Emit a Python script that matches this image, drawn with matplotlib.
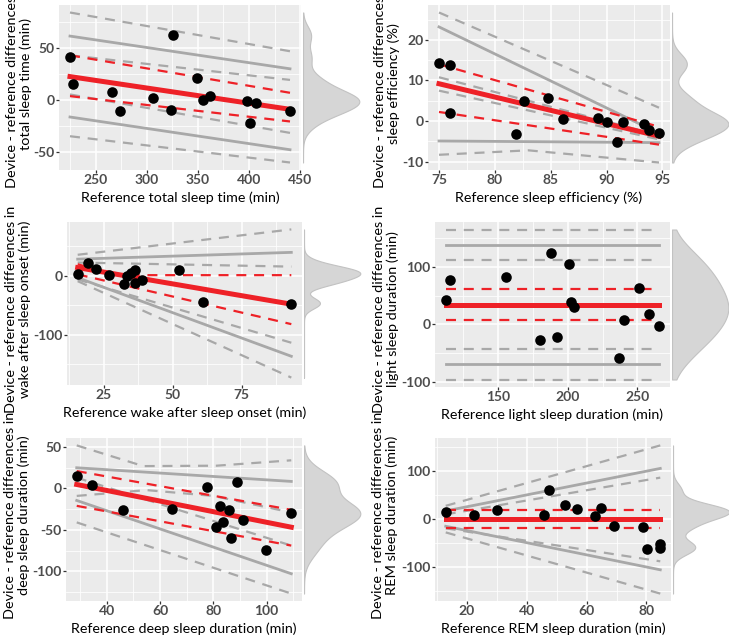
import numpy as np
import matplotlib.pyplot as plt

plt.rcParams['font.family'] = ['Lato', 'DejaVu Sans']
plt.rcParams['axes.unicode_minus'] = False

W, H = 729, 637

# ---- total sleep time ----
tst_x = [225, 228.2, 266.2, 273.4, 305.8, 324, 326, 349, 354.9, 362, 398, 401, 406.8, 440]
tst_y = [41.2, 15.3, 7.5, -10.4, 2.3, -9.7, 62.7, 21.1, 0, 3.9, -0.6, -22.4, -2.9, -10.4]
tst_bias = [22.7, -8.8]
tst_bias_ci = [[43.2, 7.1], [3.9, -20.5]]
tst_loa = [[61.7, 30.2], [-16.2, -47.7]]
tst_loa_ci = [[84.4, 47.1], [43.2, 19.5], [5.5, -31.5], [-34.7, -60.0]]
tst_xticks = [250, 300, 350, 400, 450]
tst_yticks = [-50, 0, 50]

# ---- sleep efficiency ----
se_x = [75.0, 75.95, 76.0, 81.9, 82.6, 84.8, 86.1, 89.2, 90.0, 90.9, 91.5, 93.4, 93.8, 94.7]
se_y = [14.4, 13.75, 2.1, -3.3, 5.0, 5.6, 0.5, 0.7, -0.3, -5.25, -0.3, -0.8, -2.3, -3.0]
se_bias = [9.2, -3.7]
se_bias_ci = [[14.0, -1.4], [2.25, -5.8]]
se_loa = [[23.2, -3.0], [-4.9, -5.3]]
se_loa_ci = [[26.75, 3.3], [10.8, -3.5], [7.5, -4.5],
             ([75.0, 83.0, 94.7], [-8.3, -7.2, -10.2])]
se_xticks = [75, 80, 85, 90, 95]
se_yticks = [-10, 0, 10, 20]

# ---- wake after sleep onset ----
waso_x = [15.6, 19.2, 22.2, 26.8, 32.2, 33.6, 35.0, 36.2, 36.2, 38.7, 52.1, 61.1, 92.9]
waso_y = [2.9, 21.8, 10.9, 1.1, -13.2, -1.1, 5.2, 10.3, -12.1, -8.0, 10.3, -45.4, -47.7]
waso_bias = [13.8, -48.3]
waso_bias_ci = [([15.6, 28.0, 40.0, 92.9], [19.5, 3.0, 1.0, 1.0]), [2.3, -82.2]]
waso_loa = [[28.2, 39.7], [-3.4, -136.8]]
waso_loa_ci = [[35.6, 78.7], [22.4, 15.5], [-6.3, -113.8], [-9.2, -173.0]]
waso_xticks = [25, 50, 75]
waso_yticks = [-100, 0]

# ---- light sleep ----
light_x = [112.4, 115.5, 155.7, 179.8, 188.1, 192.4, 200.7, 202.4, 204.8, 236.7, 240.5, 251.2, 258.3, 265.7]
light_y = [42.9, 77.6, 82.9, -27.6, 124.1, -22.9, 105.3, 39.4, 30.0, -58.2, 6.5, 63.5, 17.1, -2.9]
light_bias = [34.1, 34.1]
light_bias_ci = [[61.8, 61.8], [7.6, 7.6]]
light_loa = [[137.6, 137.6], [-70.0, -70.0]]
light_loa_ci = [[165.3, 165.3], [112.4, 112.4], [-42.4, -42.4], [-96.5, -96.5]]
light_xticks = [150, 200, 250]
light_yticks = [-100, 0, 100]

# ---- deep sleep ----
deep_x = [28.75, 34.4, 46, 64.6, 77.5, 81.1, 82.6, 83.75, 85.75, 86.75, 88.9, 91.1, 99.9, 109.25]
deep_y = [15.3, 4.0, -25.8, -25.0, 2.0, -46.0, -20.6, -40.3, -26.2, -59.7, 7.3, -38.7, -74.6, -29.8]
deep_bias = [4.8, -46.8]
deep_bias_ci = [[21.0, -25.8], [-21.0, -69.0]]
deep_loa = [[25.0, 8.5], [-14.5, -103.0]]
deep_loa_ci = [([28.75, 53.75, 81.25, 109.25], [52.0, 27.0, 27.5, 34.0]),
               ([28.75, 55.0, 80.0, 109.25], [-9.0, -2.0, -9.0, -29.0]),
               [13.0, -69.0], [-41.0, -127.0]]
deep_xticks = [40, 60, 80, 100]
deep_yticks = [-100, -50, 0, 50]

# ---- REM sleep ----
rem_x = [13, 22.6, 30, 45.9, 47.3, 52.9, 56.8, 62.7, 64.8, 69.2, 78.7, 80.1, 84.6, 84.6]
rem_y = [13.5, 8.5, 17.7, 7.8, 60.3, 29.1, 19.9, 6.4, 22.7, -14.2, -17.0, -63.8, -52.5, -61.7]
rem_bias = [-1.4, -1.4]
rem_bias_ci = [[17.7, 17.7], [-19.1, -19.1]]
rem_loa = [[16.3, 105.0], [-15.6, -106.4]]
rem_loa_ci = [[27.0, 153.0], [9.2, 85.8], [-19.9, -88.7], [-28.4, -156.0]]
rem_xticks = [20, 40, 60, 80]
rem_yticks = [-100, 0, 100]

RED = '#ee2127'
GREY = '#a8a8a8'
YLAB = 'Device - reference differences in\n'


def nrd0(v):
    v = np.asarray(v, float)
    sd = v.std(ddof=1)
    iqr = np.subtract(*np.percentile(v, [75, 25]))
    return 0.9 * min(sd, iqr / 1.34) * len(v) ** -0.2


def kde(v, grid):
    bw = nrd0(v)
    z = (grid[:, None] - np.asarray(v)[None, :]) / bw
    return np.exp(-0.5 * z ** 2).sum(1) / (len(v) * bw * np.sqrt(2 * np.pi))


def xy(line, span):
    if isinstance(line, tuple):
        return line
    return span, line


def panel(fig, box, x, y, bias, bias_ci, loa, loa_ci, xticks, yticks, xlabel, ylabel,
          lab_x, lab_y):
    l, r, t, b = box
    ax = fig.add_axes([l / W, 1 - b / H, (r - l) / W, (b - t) / H])
    ax.set_facecolor('#ebebeb')
    span = [min(x), max(x)]

    for ln in loa_ci:
        xs, ys = xy(ln, span)
        ax.plot(xs, ys, color=GREY, lw=1.6, ls=(0, (4.5, 3.5)), zorder=2)
    for ln in loa:
        xs, ys = xy(ln, span)
        ax.plot(xs, ys, color=GREY, lw=2.0, zorder=2)
    for ln in bias_ci:
        xs, ys = xy(ln, span)
        ax.plot(xs, ys, color=RED, lw=1.6, ls=(0, (4.5, 3.5)), zorder=3)
    ax.plot(span, bias, color=RED, lw=3.6, zorder=3)
    ax.scatter(x, y, s=58, color='black', zorder=4, linewidths=0)

    ax.set_xticks(xticks)
    ax.set_yticks(yticks)
    xs_ = xticks[1] - xticks[0]
    ys_ = yticks[1] - yticks[0]
    ax.set_xticks(np.arange(xticks[0] - xs_ / 2, xticks[-1] + xs_, xs_), minor=True)
    ax.set_yticks(np.arange(yticks[0] - ys_ / 2, yticks[-1] + ys_, ys_), minor=True)
    lo, hi = ax.dataLim.y0, ax.dataLim.y1
    ax.set_ylim(lo - 0.05 * (hi - lo), hi + 0.05 * (hi - lo))
    xl0, xl1 = ax.dataLim.x0, ax.dataLim.x1
    ax.set_xlim(xl0 - 0.05 * (xl1 - xl0), xl1 + 0.05 * (xl1 - xl0))

    ax.grid(which='major', color='white', lw=1.1)
    ax.grid(which='minor', color='white', lw=0.55)
    ax.set_axisbelow(True)
    for s in ax.spines.values():
        s.set_visible(False)
    ax.tick_params(which='major', length=2.2, width=0.9, color='#333333',
                   labelsize=10, labelcolor='#4d4d4d', pad=1)
    ax.tick_params(which='minor', length=0)
    for lab in ax.get_xticklabels() + ax.get_yticklabels():
        lab.set_fontweight('bold')
    ax.set_xlabel(xlabel, fontsize=10.3, labelpad=3.5)

    # two-line y title, allowed to run past the panel like in the original
    fig.text(lab_x / W, 1 - lab_y / H, YLAB + ylabel, rotation=90,
             ha='center', va='center', multialignment='center', fontsize=10.4,
             linespacing=1.2)

    # marginal density of the differences
    dax = fig.add_axes([(r + 2) / W, 1 - b / H, 58 / W, (b - t) / H])
    grid = np.linspace(lo, hi, 400)
    dens = kde(y, grid)
    dax.fill_betweenx(grid, 0, dens, facecolor='#d6d6d6', edgecolor='#c2c2c2', lw=0.8)
    dax.set_ylim(ax.get_ylim())
    dax.set_xlim(0, dens.max() * 1.03)
    dax.axis('off')
    return ax


fig = plt.figure(figsize=(W / 100, H / 100), dpi=100)

panel(fig, (59, 301, 5, 170), tst_x, tst_y, tst_bias, tst_bias_ci, tst_loa, tst_loa_ci,
      tst_xticks, tst_yticks, 'Reference total sleep time (min)', 'total sleep time (min)',
      19, 84)
panel(fig, (428, 670, 5, 170), se_x, se_y, se_bias, se_bias_ci, se_loa, se_loa_ci,
      se_xticks, se_yticks, 'Reference sleep efficiency (%)', 'sleep efficiency (%)',
      387, 84)
panel(fig, (67, 302, 222, 385), waso_x, waso_y, waso_bias, waso_bias_ci, waso_loa, waso_loa_ci,
      waso_xticks, waso_yticks, 'Reference wake after sleep onset (min)',
      'wake after sleep onset (min)', 18, 309)
panel(fig, (435, 670, 222, 387), light_x, light_y, light_bias, light_bias_ci, light_loa,
      light_loa_ci, light_xticks, light_yticks, 'Reference light sleep duration (min)',
      'light sleep duration (min)', 386, 309)
panel(fig, (66, 302, 438, 601), deep_x, deep_y, deep_bias, deep_bias_ci, deep_loa, deep_loa_ci,
      deep_xticks, deep_yticks, 'Reference deep sleep duration (min)',
      'deep sleep duration (min)', 17, 515)
panel(fig, (435, 671, 438, 601), rem_x, rem_y, rem_bias, rem_bias_ci, rem_loa, rem_loa_ci,
      rem_xticks, rem_yticks, 'Reference REM sleep duration (min)',
      'REM sleep duration (min)', 385, 515)

fig.savefig('out.png', dpi=100)
